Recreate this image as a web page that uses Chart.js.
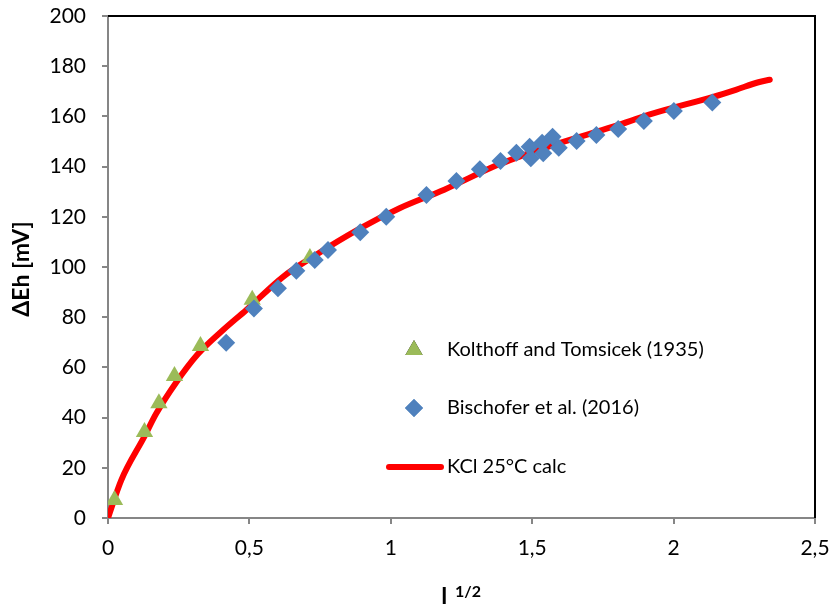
<!DOCTYPE html>
<html lang="en">
<head>
  <meta charset="UTF-8">
  <title>KCl dEh vs I^1/2</title>
  <script src="https://cdn.jsdelivr.net/npm/chart.js"></script>
  <style>
    html, body { margin: 0; padding: 0; background: #fff; }
    #wrap { width: 835px; height: 607px; position: relative; }
  </style>
</head>
<body>
  <div id="wrap"><canvas id="chart" width="835" height="607"></canvas></div>
  <script>
    // Kolthoff and Tomsicek (1935)
    const kolX = [0.023, 0.129, 0.18, 0.235, 0.327, 0.51, 0.714];
    const kolY = [7.2, 34.3, 45.7, 56.6, 68.5, 87.0, 103.6];

    // Bischofer et al. (2016)
    const bisX = [0.418, 0.516, 0.601, 0.666, 0.731, 0.778, 0.892, 0.984, 1.126, 1.232, 1.315, 1.388,
                  1.444, 1.491, 1.495, 1.535, 1.539, 1.572, 1.594, 1.657, 1.727, 1.804, 1.895, 2.001, 2.137];
    const bisY = [69.8, 83.5, 91.5, 98.5, 102.8, 106.8, 113.8, 120.0, 128.7, 134.3, 138.9, 142.2,
                  145.5, 147.9, 143.3, 149.5, 145.3, 151.9, 147.5, 150.2, 152.6, 155.0, 158.2, 162.2, 165.5];

    // KCl 25°C calc
    const calcX = [0, 0.047, 0.129, 0.17, 0.241, 0.318, 0.406, 0.489, 0.619, 0.725, 0.89, 1.031,
                   1.189, 1.385, 1.574, 1.786, 1.928, 2.14, 2.22, 2.30, 2.34];
    const calcY = [0, 15.1, 32.5, 41.5, 54, 65.3, 74.8, 82.9, 96.1, 104.1, 115.3, 123.4,
                   130.8, 141.0, 148.6, 155.9, 161.2, 167.8, 170.6, 173.6, 174.6];

    const xTicks = [0, 0.5, 1, 1.5, 2, 2.5];
    const yTicks = [0, 20, 40, 60, 80, 100, 120, 140, 160, 180, 200];
    const labels = ['Kolthoff and Tomsicek (1935)', 'Bischofer et al. (2016)', 'KCl 25°C calc'];

    const FONT = 'Lato, "Liberation Sans", sans-serif';
    const GREEN = '#9BBB59', BLUE = '#4F81BD', RED = '#FF0000', AXIS = '#868686';

    const pts = (xs, ys) => xs.map((x, i) => ({ x: x, y: ys[i] }));

    // legend, frame and axis titles drawn by hand to sit where Excel put them
    const extras = {
      id: 'extras',
      afterDraw(chart) {
        const ctx = chart.ctx;
        const a = chart.chartArea;
        ctx.save();
        // black top/right frame
        ctx.strokeStyle = '#000';
        ctx.lineWidth = 2;
        ctx.beginPath();
        ctx.moveTo(a.left, a.top);
        ctx.lineTo(a.right, a.top);
        ctx.lineTo(a.right, a.bottom);
        ctx.stroke();

        // legend
        ctx.font = '20px ' + FONT;
        ctx.textBaseline = 'middle';
        ctx.textAlign = 'left';
        Chart.helpers.drawPoint(ctx, { pointStyle: 'triangle', radius: 10, borderWidth: 0 }, 414, 350);
        ctx.fillStyle = GREEN; ctx.fill();
        ctx.fillStyle = BLUE;
        Chart.helpers.drawPoint(ctx, { pointStyle: 'rectRot', radius: 9, borderWidth: 0 }, 414, 408);
        ctx.fill();
        ctx.strokeStyle = RED;
        ctx.lineWidth = 6;
        ctx.lineCap = 'round';
        ctx.beginPath(); ctx.moveTo(389, 467); ctx.lineTo(441, 467); ctx.stroke();
        ctx.fillStyle = '#000';
        ctx.fillText(labels[0], 447, 350);
        ctx.fillText(labels[1], 447, 408);
        ctx.fillText(labels[2], 447, 467);

        // y title
        ctx.font = 'bold 23px ' + FONT;
        ctx.save();
        ctx.translate(22, 269);
        ctx.rotate(-Math.PI / 2);
        ctx.textAlign = 'center';
        ctx.fillText('ΔEh [mV]', 0, 0);
        ctx.restore();

        // x title
        ctx.textBaseline = 'alphabetic';
        ctx.font = 'bold 22px ' + FONT;
        ctx.fillText('I', 441, 604);
        ctx.font = 'bold 16px ' + FONT;
        ctx.fillText('1/2', 455, 597);
        ctx.restore();
      }
    };

    new Chart(document.getElementById('chart'), {
      type: 'scatter',
      data: {
        datasets: [
          {
            label: labels[0], data: pts(kolX, kolY), order: 2,
            pointStyle: 'triangle', pointRadius: 10, pointBorderWidth: 0,
            backgroundColor: GREEN, borderColor: GREEN
          },
          {
            label: labels[1], data: pts(bisX, bisY), order: 1,
            pointStyle: 'rectRot', pointRadius: 9, pointBorderWidth: 0,
            backgroundColor: BLUE, borderColor: BLUE
          },
          {
            label: labels[2], data: pts(calcX, calcY), order: 3,
            showLine: true, pointRadius: 0, borderColor: RED, borderWidth: 6,
            borderCapStyle: 'round', borderJoinStyle: 'round',
            cubicInterpolationMode: 'monotone'
          }
        ]
      },
      options: {
        responsive: false,
        animation: false,
        layout: { padding: { top: 16, right: 20, left: 0, bottom: 0 } },
        plugins: { legend: { display: false }, tooltip: { enabled: false } },
        scales: {
          x: {
            type: 'linear', min: 0, max: 2.5,
            afterBuildTicks: s => { s.ticks = xTicks.map(v => ({ value: v })); },
            afterFit: s => { s.height = 89; s.paddingLeft = 0; s.paddingRight = 0; },
            ticks: {
              color: '#000', font: { size: 21, family: FONT }, padding: 12,
              maxRotation: 0, callback: v => String(v).replace('.', ',')
            },
            grid: { drawOnChartArea: false, color: AXIS, tickLength: 6, lineWidth: 2 },
            border: { color: AXIS, width: 2 }
          },
          y: {
            type: 'linear', min: 0, max: 200,
            afterBuildTicks: s => { s.ticks = yTicks.map(v => ({ value: v })); },
            afterFit: s => { s.width = 108; s.paddingTop = 0; s.paddingBottom = 0; },
            ticks: { color: '#000', font: { size: 21, family: FONT }, padding: 16 },
            grid: { drawOnChartArea: false, color: AXIS, tickLength: 6, lineWidth: 2 },
            border: { color: AXIS, width: 2 }
          }
        }
      },
      plugins: [extras]
    });
  </script>
</body>
</html>
